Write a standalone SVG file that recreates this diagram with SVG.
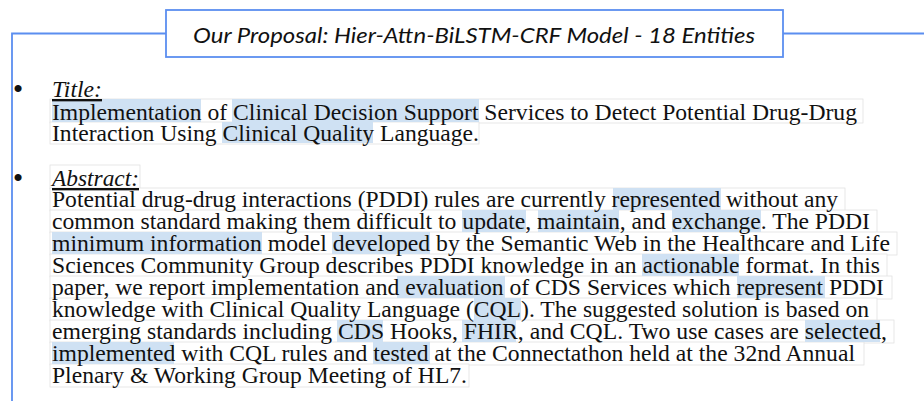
<svg xmlns="http://www.w3.org/2000/svg" width="924" height="401" viewBox="0 0 924 401">
  <defs>
    <style>
      .frame { fill: none; stroke: #5b8ef0; stroke-width: 1.8; }
      .hdr { font-family: Lato, "Open Sans", "Liberation Sans", sans-serif; font-style: italic; font-size: 22px; fill: #111; }
      .body { font-family: "Liberation Serif", "Times New Roman", serif; font-size: 23.5px; fill: #111; }
      .label { font-style: italic; text-decoration: underline; }
      .hl { fill: #cfe1f3; }
      .lb { fill: #ffffff; stroke: #e2e2e2; stroke-width: 0.8; }
      .bul { font-family: "Liberation Sans", Arial, sans-serif; font-size: 26px; fill: #111; text-anchor: middle; }
    </style>
  </defs>

  <rect width="924" height="401" fill="#ffffff"/>

  <g id="connectors">
    <polyline class="frame" points="166,33.5 12,33.5 12,401"/>
    <line class="frame" x1="783" y1="33.5" x2="924" y2="33.5"/>
  </g>

  <g id="header">
    <rect class="frame" x="166" y="10" width="617" height="47" fill="#ffffff"/>
    <text class="hdr" x="193" y="43" textLength="562" lengthAdjust="spacingAndGlyphs">Our Proposal: Hier-Attn-BiLSTM-CRF Model - 18 Entities</text>
  </g>

  <g id="title-item">
    <text class="bul" x="18" y="97">•</text>
    <rect class="lb" x="50" y="99" width="813" height="24"/>
    <rect class="lb" x="50" y="122" width="429" height="22"/>
    <rect class="hl" x="52" y="99" width="149" height="23"/>
    <rect class="hl" x="232" y="99" width="247" height="23"/>
    <rect class="hl" x="222" y="122" width="151" height="21"/>
    <text class="body label" x="52" y="97" textLength="50" lengthAdjust="spacingAndGlyphs">Title:</text>
    <text class="body" x="52" y="120" textLength="805" lengthAdjust="spacingAndGlyphs">Implementation of Clinical Decision Support Services to Detect Potential Drug-Drug</text>
    <text class="body" x="52" y="141" textLength="427" lengthAdjust="spacingAndGlyphs">Interaction Using Clinical Quality Language.</text>
  </g>

  <g id="abstract-item">
    <text class="bul" x="18" y="186">•</text>
    <rect class="lb" x="50" y="165" width="90" height="24"/>
    <rect class="lb" x="50" y="188" width="795" height="23"/>
    <rect class="lb" x="50" y="210" width="827" height="23"/>
    <rect class="lb" x="50" y="232" width="847" height="23"/>
    <rect class="lb" x="50" y="254" width="837" height="23"/>
    <rect class="lb" x="50" y="276" width="842" height="23"/>
    <rect class="lb" x="50" y="298" width="827" height="23"/>
    <rect class="lb" x="50" y="320" width="844" height="23"/>
    <rect class="lb" x="50" y="342" width="814" height="23"/>
    <rect class="lb" x="50" y="364" width="419" height="23"/>

    <rect class="hl" x="613" y="188" width="108" height="22"/>
    <rect class="hl" x="462" y="210" width="64" height="22"/>
    <rect class="hl" x="538" y="210" width="81" height="22"/>
    <rect class="hl" x="672" y="210" width="89" height="22"/>
    <rect class="hl" x="52" y="232" width="210" height="22"/>
    <rect class="hl" x="332" y="232" width="98" height="22"/>
    <rect class="hl" x="642" y="254" width="97" height="22"/>
    <rect class="hl" x="397" y="276" width="108" height="22"/>
    <rect class="hl" x="737" y="276" width="88" height="22"/>
    <rect class="hl" x="474" y="298" width="47" height="22"/>
    <rect class="hl" x="337" y="320" width="46" height="22"/>
    <rect class="hl" x="462" y="320" width="54" height="22"/>
    <rect class="hl" x="805" y="320" width="75" height="22"/>
    <rect class="hl" x="52" y="342" width="122" height="22"/>
    <rect class="hl" x="373" y="342" width="57" height="22"/>

    <text class="body label" x="52" y="186" textLength="87" lengthAdjust="spacingAndGlyphs">Abstract:</text>
    <text class="body" x="52" y="207" textLength="786" lengthAdjust="spacingAndGlyphs">Potential drug-drug interactions (PDDI) rules are currently represented without any</text>
    <text class="body" x="52" y="229" textLength="818" lengthAdjust="spacingAndGlyphs">common standard making them difficult to update, maintain, and exchange. The PDDI</text>
    <text class="body" x="52" y="251" textLength="838" lengthAdjust="spacingAndGlyphs">minimum information model developed by the Semantic Web in the Healthcare and Life</text>
    <text class="body" x="52" y="273" textLength="828" lengthAdjust="spacingAndGlyphs">Sciences Community Group describes PDDI knowledge in an actionable format. In this</text>
    <text class="body" x="52" y="295" textLength="832" lengthAdjust="spacingAndGlyphs">paper, we report implementation and evaluation of CDS Services which represent PDDI</text>
    <text class="body" x="52" y="317" textLength="817" lengthAdjust="spacingAndGlyphs">knowledge with Clinical Quality Language (CQL). The suggested solution is based on</text>
    <text class="body" x="52" y="339" textLength="835" lengthAdjust="spacingAndGlyphs">emerging standards including CDS Hooks, FHIR, and CQL. Two use cases are selected,</text>
    <text class="body" x="52" y="361" textLength="803" lengthAdjust="spacingAndGlyphs">implemented with CQL rules and tested at the Connectathon held at the 32nd Annual</text>
    <text class="body" x="52" y="383" textLength="415" lengthAdjust="spacingAndGlyphs">Plenary &amp; Working Group Meeting of HL7.</text>
  </g>
</svg>
